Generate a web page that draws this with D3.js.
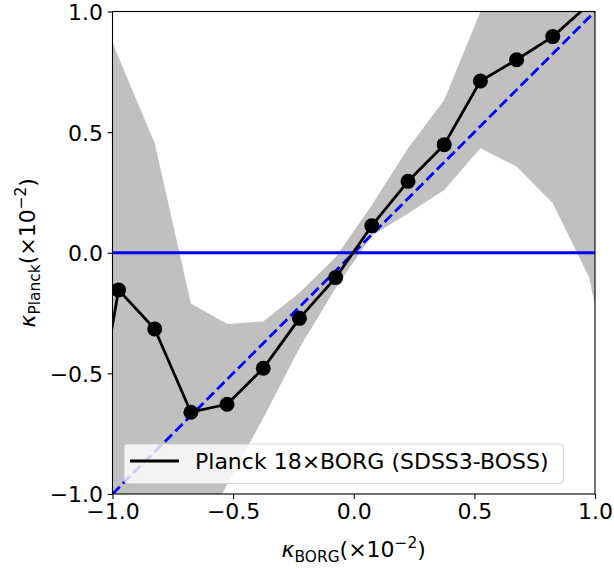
<!DOCTYPE html>
<html>
<head>
<meta charset="utf-8">
<script src="https://cdn.jsdelivr.net/npm/d3@7"></script>
<style>
  body { margin: 0; background: #fff; }
  svg { display: block; font-family: "DejaVu Sans", sans-serif; }
</style>
</head>
<body>
<svg id="chart" width="614" height="569"></svg>
<script>
// ---- data ----
const kappaBorg   = [-1.125, -0.975, -0.825, -0.675, -0.525, -0.375, -0.225, -0.075, 0.075, 0.225, 0.375, 0.525, 0.675, 0.825, 0.975, 1.125];
const kappaPlanck = [-1.03, -0.154, -0.316, -0.661, -0.628, -0.479, -0.272, -0.103, 0.112, 0.296, 0.448, 0.712, 0.800, 0.896, 1.03, 1.15];
const bandUpper   = [1.17, 0.81, 0.454, -0.21, -0.295, -0.285, -0.166, -0.018, 0.198, 0.433, 0.633, 1.0, 1.4, 1.6, 1.7, 1.8];
const bandLower   = [-2.0, -1.9, -1.8, -1.26, -0.96, -0.685, -0.395, -0.146, 0.07, 0.163, 0.26, 0.433, 0.357, 0.205, -0.10, -0.80];
const xTicks = [-1.0, -0.5, 0.0, 0.5, 1.0];
const yTicks = [-1.0, -0.5, 0.0, 0.5, 1.0];
const xDomain = [-1, 1];
const yDomain = [-1, 1];
const legendLabel = "Planck 18×BORG (SDSS3-BOSS)";

// ---- layout ----
const svg = d3.select("#chart");
const L = 112.5, R = 595, T = 11.5, B = 494;
const x = d3.scaleLinear().domain(xDomain).range([L, R]);
const y = d3.scaleLinear().domain(yDomain).range([B, T]);
const fmt = d => d3.format(".1f")(d).replace("-", "\u2212");
const FS = 22;

svg.append("defs").append("clipPath").attr("id", "clip")
  .append("rect").attr("x", L).attr("y", T).attr("width", R - L).attr("height", B - T);

const plot = svg.append("g").attr("clip-path", "url(#clip)");
const pts = kappaBorg.map((k, i) => ({x: k, y: kappaPlanck[i], lo: bandLower[i], hi: bandUpper[i]}));

// band
plot.append("path").datum(pts)
  .attr("d", d3.area().x(d => x(d.x)).y0(d => y(d.lo)).y1(d => y(d.hi)))
  .attr("fill", "#c0c0c0");

// zero line
plot.append("path").datum(xDomain)
  .attr("d", d3.line().x(d => x(d)).y(() => y(0)))
  .attr("stroke", "#0000ff").attr("stroke-width", 2.8).attr("fill", "none");

// one-to-one dashed
plot.append("path").datum(xDomain)
  .attr("d", d3.line().x(d => x(d)).y(d => y(d)))
  .attr("stroke", "#0000ff").attr("stroke-width", 2.8).attr("fill", "none")
  .attr("stroke-dasharray", "10.3,4.5");

// data line + markers
plot.append("path").datum(pts)
  .attr("d", d3.line().x(d => x(d.x)).y(d => y(d.y)))
  .attr("stroke", "#000").attr("stroke-width", 2.8).attr("fill", "none")
  .attr("stroke-linejoin", "round");
plot.selectAll("circle.m").data(pts).join("circle").attr("class", "m")
  .attr("cx", d => x(d.x)).attr("cy", d => y(d.y)).attr("r", 7.5).attr("fill", "#000");

// frame
svg.append("rect").attr("x", L).attr("y", T).attr("width", R - L).attr("height", B - T)
  .attr("fill", "none").attr("stroke", "#000").attr("stroke-width", 1.1);

// axes
const xAxis = svg.append("g").attr("transform", `translate(0,${B})`)
  .call(d3.axisBottom(x).tickValues(xTicks).tickFormat(fmt).tickSize(4.9).tickPadding(4.5));
const yAxis = svg.append("g").attr("transform", `translate(${L},0)`)
  .call(d3.axisLeft(y).tickValues(yTicks).tickFormat(fmt).tickSize(4.9).tickPadding(4.5));
[xAxis, yAxis].forEach(a => {
  a.select(".domain").remove();
  a.selectAll(".tick line").attr("stroke", "#000").attr("stroke-width", 1.1);
  a.selectAll(".tick text").attr("font-size", FS).attr("fill", "#000")
    .attr("font-family", "DejaVu Sans");
});
yAxis.selectAll(".tick text").attr("dy", "0.36em");

// axis labels (mathtext-like)
function mathLabel(g, sub) {
  const t = g.append("text").attr("font-size", FS).attr("fill", "#000").attr("text-anchor", "middle");
  t.append("tspan").attr("font-style", "italic").text("κ");
  t.append("tspan").attr("font-size", FS * 0.7).attr("dy", FS * 0.22).text(sub);
  t.append("tspan").attr("dy", -FS * 0.22).text("(×10");
  t.append("tspan").attr("font-size", FS * 0.7).attr("dy", -FS * 0.4).text("\u22122");
  t.append("tspan").attr("dy", FS * 0.4).text(")");
  return t;
}
mathLabel(svg.append("g").attr("transform", `translate(${(L + R) / 2},557)`), "BORG");
mathLabel(svg.append("g").attr("transform", `translate(35,${(T + B) / 2}) rotate(-90)`), "Planck");

// legend
const lg = svg.append("g");
lg.append("rect").attr("x", 124).attr("y", 444).attr("width", 439.5).attr("height", 39.5)
  .attr("rx", 4).attr("fill", "#fff").attr("fill-opacity", 0.8)
  .attr("stroke", "#cccccc").attr("stroke-opacity", 0.8).attr("stroke-width", 1.1);
lg.append("line").attr("x1", 130).attr("x2", 179).attr("y1", 461).attr("y2", 461)
  .attr("stroke", "#000").attr("stroke-width", 2.8);
lg.append("text").attr("x", 195).attr("y", 469).attr("font-size", FS).attr("fill", "#000")
  .text(legendLabel);
</script>
</body>
</html>
